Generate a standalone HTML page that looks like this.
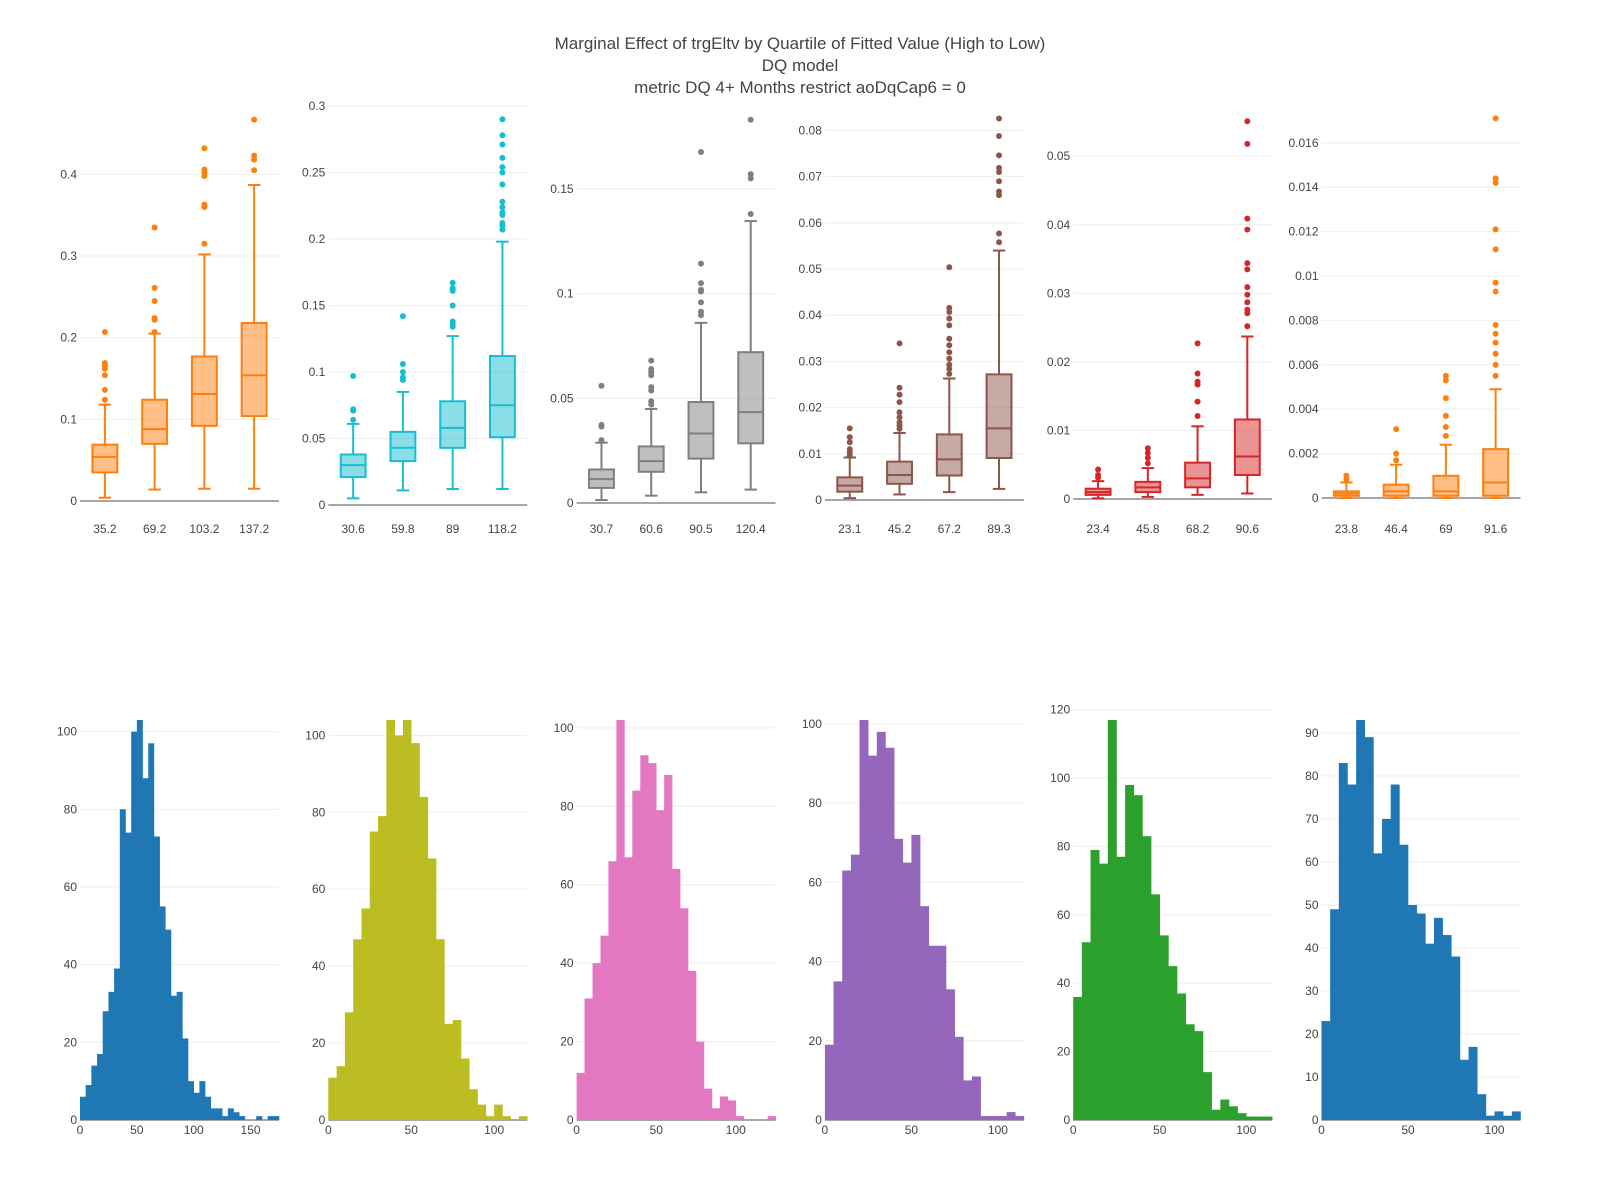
<!DOCTYPE html>
<html><head><meta charset="utf-8">
<style>
html,body{margin:0;padding:0;background:#fff;}
svg{display:block;font-family:"Liberation Sans",sans-serif;}
</style></head>
<body>
<svg id="chart" width="1600" height="1200" viewBox="0 0 1600 1200" xmlns="http://www.w3.org/2000/svg">
<rect width="1600" height="1200" fill="#fff"/>
<g fill="#444" font-size="17" text-anchor="middle">
<text x="800" y="49">Marginal Effect of trgEltv by Quartile of Fitted Value (High to Low)</text>
<text x="800" y="71">DQ model</text>
<text x="800" y="93">metric DQ 4+ Months restrict aoDqCap6 = 0</text>
</g>
<g id="plots"></g>
</svg>
<script>
// ---- Box plot data (per panel) ----
const boxCats = [
 ["35.2","69.2","103.2","137.2"],
 ["30.6","59.8","89","118.2"],
 ["30.7","60.6","90.5","120.4"],
 ["23.1","45.2","67.2","89.3"],
 ["23.4","45.8","68.2","90.6"],
 ["23.8","46.4","69","91.6"]
];
// [low whisker, q1, median, q3, high whisker]
const boxStats1 = [[0.004,0.035,0.054,0.069,0.118],[0.014,0.070,0.088,0.124,0.205],[0.015,0.092,0.131,0.177,0.302],[0.015,0.104,0.154,0.218,0.387]];
const boxStats2 = [[0.005,0.021,0.030,0.038,0.061],[0.011,0.033,0.043,0.055,0.085],[0.012,0.043,0.058,0.078,0.127],[0.012,0.051,0.075,0.112,0.198]];
const boxStats3 = [[0.0014,0.0072,0.0114,0.016,0.0288],[0.0035,0.0149,0.020,0.027,0.0449],[0.0051,0.0212,0.0332,0.0482,0.086],[0.0064,0.0285,0.0434,0.072,0.1346]];
const boxStats4 = [[0.0004,0.0018,0.0031,0.0049,0.0092],[0.0012,0.0035,0.0054,0.0083,0.0145],[0.0017,0.0053,0.0088,0.0142,0.0263],[0.0024,0.0091,0.0155,0.0272,0.054]];
const boxStats5 = [[0.0001,0.0006,0.001,0.0015,0.0026],[0.0003,0.001,0.0017,0.0025,0.0045],[0.0006,0.0017,0.003,0.0053,0.0106],[0.0008,0.0035,0.0062,0.0116,0.0237]];
const boxStats6 = [[0,0.0001,0.0002,0.0003,0.0007],[0,0.0001,0.0003,0.0006,0.0015],[0,0.0001,0.0003,0.001,0.0024],[0,0.0001,0.0007,0.0022,0.0049]];
const boxOut1 = [[0.124,0.136,0.154,0.162,0.166,0.169,0.207],[0.207,0.222,0.224,0.245,0.261,0.335],[0.315,0.36,0.363,0.398,0.402,0.406,0.432],[0.405,0.418,0.423,0.467]];
const boxOut2 = [[0.064,0.071,0.072,0.097],[0.094,0.096,0.100,0.106,0.142],[0.134,0.136,0.138,0.150,0.161,0.163,0.167],[0.207,0.210,0.212,0.218,0.220,0.224,0.228,0.241,0.250,0.254,0.261,0.271,0.278,0.290]];
const boxOut3 = [[0.030,0.0365,0.0373,0.056],[0.047,0.0486,0.0537,0.0553,0.061,0.0625,0.064,0.068],[0.0897,0.0913,0.0958,0.101,0.1018,0.105,0.1143,0.1676],[0.138,0.155,0.157,0.183]];
const boxOut4 = [[0.0096,0.0103,0.011,0.0125,0.0136,0.0155],[0.0154,0.0161,0.0168,0.0179,0.019,0.0212,0.0228,0.0243,0.0339],[0.0273,0.0284,0.0293,0.0306,0.032,0.0335,0.0349,0.0378,0.0393,0.0407,0.0416,0.0504],[0.0558,0.0577,0.066,0.0668,0.069,0.071,0.0719,0.0746,0.0788,0.0826]];
const boxOut5 = [[0.0031,0.0035,0.0043],[0.0052,0.006,0.0067,0.0074],[0.0121,0.0142,0.0167,0.0171,0.0183,0.0227],[0.0252,0.0271,0.0276,0.0287,0.0298,0.0309,0.0335,0.0344,0.0393,0.0409,0.0518,0.0551]];
const boxOut6 = [[0.00084,0.001],[0.0017,0.002,0.0031],[0.0028,0.0032,0.0037,0.0045,0.0053,0.0055],[0.0055,0.006,0.0065,0.007,0.0074,0.0078,0.0093,0.0097,0.0112,0.0121,0.0142,0.0144,0.0171]];
const boxTicks = [
 [0,0.1,0.2,0.3,0.4],
 [0,0.05,0.1,0.15,0.2,0.25,0.3],
 [0,0.05,0.1,0.15],
 [0,0.01,0.02,0.03,0.04,0.05,0.06,0.07,0.08],
 [0,0.01,0.02,0.03,0.04,0.05],
 [0,0.002,0.004,0.006,0.008,0.01,0.012,0.014,0.016]
];
const boxRanges = [[-0.0135,0.4911],[-0.00526,0.3045],[-0.0043,0.1924],[-0.0026,0.0866],[-0.0019,0.0582],[-0.000631,0.01793]];
const boxColors = ["#ff7f0e","#17becf","#7f7f7f","#8c564b","#d62728","#ff7f0e"];

// ---- Histogram data (bin width 5, starting at 0) ----
const hist1 = [6,9,14,17,28,33,39,80,74,100,103,88,97,73,55,49,32,33,21,10,7,10,6,3,3,1,3,2,1,0,0,1,0,1,1];
const hist2 = [11,14,28,47,55,75,79,104,100,104,98,84,68,47,25,26,16,8,4,1,4,1,0,1];
const hist3 = [12,31,40,47,66,102,67,84,93,91,79,88,64,54,38,20,8,3,6,5,1,0,0,0,1];
const hist4 = [19,35,63,67,101,92,98,94,71,65,72,54,44,44,33,21,10,11,1,1,1,2,1];
const hist5 = [36,52,79,75,117,77,98,95,83,66,54,45,37,28,26,14,3,6,4,2,1,1,1];
const hist6 = [23,49,83,78,93,89,62,70,78,64,50,48,41,47,43,38,14,17,6,1,2,1,2];
const histBinWidth = 5;
const histYTicks = [[0,20,40,60,80,100],[0,20,40,60,80,100],[0,20,40,60,80,100],[0,20,40,60,80,100],[0,20,40,60,80,100,120],[0,10,20,30,40,50,60,70,80,90]];
const histXTicks = [[0,50,100,150],[0,50,100],[0,50,100],[0,50,100],[0,50,100],[0,50,100]];
const histColors = ["#1f77b4","#bcbd22","#e377c2","#9467bd","#2ca02c","#1f77b4"];

const boxStats = [boxStats1,boxStats2,boxStats3,boxStats4,boxStats5,boxStats6];
const boxOuts = [boxOut1,boxOut2,boxOut3,boxOut4,boxOut5,boxOut6];
const hists = [hist1,hist2,hist3,hist4,hist5,hist6];

const NS = "http://www.w3.org/2000/svg";
const root = document.getElementById("plots");
function mk(tag, attrs, parent){
  const e = document.createElementNS(NS, tag);
  for (const k in attrs) e.setAttribute(k, attrs[k]);
  (parent||root).appendChild(e);
  return e;
}
function fmt(v){ return String(+v.toFixed(6)); }
const PW = 199, PITCH = 248.3, LEFT0 = 80;
const BT = 100, BB = 512;
const HT = 720, HB = 1120;

for (let p = 0; p < 6; p++){
  const L = LEFT0 + p*PITCH;
  // ---------- box panel ----------
  const g = mk("g", {});
  
  
  const rng = boxRanges[p];
  const y = v => BB - (v - rng[0])/(rng[1]-rng[0])*(BB-BT);
  const band = PW/4;
  const xc = i => L + band*(i+0.5);
  boxTicks[p].forEach(t => {
    if (t !== 0) {
      const gl = mk("line", {x1:L, x2:L+PW, y1:y(t), y2:y(t), stroke:"#eee", "stroke-width":1}, g);
      
      
    }
    const tl = mk("text", {x:L-3, y:y(t)+4, "text-anchor":"end", "font-size":12, fill:"#444"}, g);
    tl.textContent = fmt(t);
    
    
  });
  const zl = mk("line", {x1:L, x2:L+PW, y1:y(0), y2:y(0), stroke:"#888", "stroke-width":1.5}, g);
  
  
  const col = boxColors[p];
  boxStats[p].forEach((s, i) => {
    const cx = xc(i), bw = band*0.5, cw = bw*0.5;
    const bg = mk("g", {stroke:col, "stroke-width":2, fill:"none"}, g);
    
    
    mk("line", {x1:cx, x2:cx, y1:y(s[0]), y2:y(s[1])}, bg);
    mk("line", {x1:cx, x2:cx, y1:y(s[3]), y2:y(s[4])}, bg);
    mk("line", {x1:cx-cw/2, x2:cx+cw/2, y1:y(s[0]), y2:y(s[0])}, bg);
    mk("line", {x1:cx-cw/2, x2:cx+cw/2, y1:y(s[4]), y2:y(s[4])}, bg);
    mk("rect", {x:cx-bw/2, y:y(s[3]), width:bw, height:Math.max(1,y(s[1])-y(s[3])), fill:col, "fill-opacity":0.5}, bg);
    mk("line", {x1:cx-bw/2, x2:cx+bw/2, y1:y(s[2]), y2:y(s[2])}, bg);
    boxOuts[p][i].forEach(o => {
      const c = mk("circle", {cx:cx, cy:y(o), r:3, fill:col, stroke:"none"}, g);
      
      
    });
    const xl = mk("text", {x:cx, y:533, "text-anchor":"middle", "font-size":12, fill:"#444"}, g);
    xl.textContent = boxCats[p][i];
    
    
  });

  // ---------- histogram panel ----------
  const h = hists[p];
  const hg = mk("g", {});
  
  
  const maxC = Math.max(...h);
  const xmax = h.length*histBinWidth;
  const hy = v => HB - v/maxC*(HB-HT);
  const hx = v => L + v/xmax*PW;
  histYTicks[p].forEach(t => {
    if (t !== 0) {
      const gl = mk("line", {x1:L, x2:L+PW, y1:hy(t), y2:hy(t), stroke:"#eee", "stroke-width":1}, hg);
      
      
    }
    const tl = mk("text", {x:L-3, y:hy(t)+4, "text-anchor":"end", "font-size":12, fill:"#444"}, hg);
    tl.textContent = t;
    
    
  });
  mk("line", {x1:L, x2:L+PW, y1:HB, y2:HB, stroke:"#888", "stroke-width":1.5}, hg);
  h.forEach((c, i) => {
    if (c <= 0) return;
    const x0 = hx(i*histBinWidth), x1 = hx((i+1)*histBinWidth);
    const r = mk("rect", {x:x0, y:hy(c), width:x1-x0+0.3, height:HB-hy(c), fill:histColors[p]}, hg);
    
    
  });
  histXTicks[p].forEach(t => {
    const tl = mk("text", {x:hx(t), y:HB+14, "text-anchor":"middle", "font-size":12, fill:"#444"}, hg);
    tl.textContent = t;
    
    
  });
}
</script>
</body></html>
